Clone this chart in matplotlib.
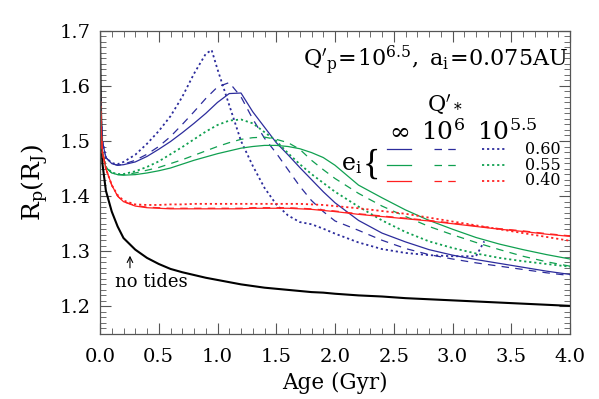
import numpy as np
import matplotlib
matplotlib.use("Agg")
from matplotlib import pyplot as plt

plt.rcParams["font.family"] = "DejaVu Serif"
plt.rcParams["mathtext.fontset"] = "dejavuserif"

# ages (Gyr) shared by most curves
age = [0.0, 0.005, 0.01, 0.02, 0.05, 0.1, 0.15, 0.2, 0.3, 0.4,
       0.5, 0.6, 0.7, 0.8, 0.9, 1.0, 1.1, 1.2, 1.3, 1.4,
       1.5, 1.6, 1.7, 1.8, 1.9, 2.0, 2.2, 2.4, 2.6, 2.8,
       3.0, 3.2, 3.4, 3.6, 3.8, 4.0]

r_no_tides = [1.70, 1.60, 1.54, 1.46, 1.41, 1.372, 1.345, 1.324, 1.303, 1.288,
              1.277, 1.268, 1.262, 1.257, 1.252, 1.248, 1.244, 1.240, 1.237, 1.234,
              1.232, 1.230, 1.228, 1.226, 1.225, 1.223, 1.220, 1.218, 1.215, 1.213,
              1.211, 1.209, 1.207, 1.205, 1.203, 1.201]

# e_i = 0.60
r_e060_inf = [1.60, 1.57, 1.54, 1.50, 1.47, 1.459, 1.456, 1.457, 1.462, 1.472,
              1.485, 1.499, 1.515, 1.532, 1.550, 1.570, 1.586, 1.587, 1.553, 1.525,
              1.497, 1.475, 1.452, 1.430, 1.408, 1.388, 1.356, 1.333, 1.317, 1.303,
              1.293, 1.285, 1.278, 1.271, 1.264, 1.258]
r_e060_q6 = [1.60, 1.57, 1.54, 1.50, 1.47, 1.459, 1.456, 1.458, 1.465, 1.476,
             1.490, 1.508, 1.530, 1.553, 1.577, 1.598, 1.606, 1.580, 1.540, 1.505,
             1.478, 1.448, 1.418, 1.392, 1.372, 1.355, 1.338, 1.320, 1.305, 1.294,
             1.286, 1.279, 1.273, 1.267, 1.261, 1.256]
age_e060_q55 = [0.0, 0.005, 0.01, 0.02, 0.05, 0.1, 0.15, 0.2, 0.3, 0.4,
                0.5, 0.6, 0.7, 0.8, 0.9, 0.95, 1.0, 1.1, 1.2, 1.3,
                1.4, 1.5, 1.6, 1.7, 1.8, 1.9, 2.0, 2.2, 2.4, 2.6,
                2.8, 3.0, 3.2, 3.27]
r_e060_q55 = [1.60, 1.57, 1.54, 1.50, 1.47, 1.460, 1.458, 1.462, 1.475, 1.495,
              1.518, 1.545, 1.580, 1.622, 1.658, 1.665, 1.630, 1.565, 1.500, 1.455,
              1.415, 1.385, 1.365, 1.353, 1.349, 1.341, 1.332, 1.316, 1.304, 1.297,
              1.293, 1.291, 1.291, 1.318]

# e_i = 0.55
r_e055_inf = [1.60, 1.56, 1.52, 1.48, 1.452, 1.442, 1.439, 1.438, 1.439, 1.442,
              1.446, 1.451, 1.458, 1.465, 1.471, 1.477, 1.482, 1.487, 1.490, 1.492,
              1.492, 1.490, 1.486, 1.479, 1.470, 1.456, 1.420, 1.397, 1.375, 1.356,
              1.340, 1.325, 1.313, 1.303, 1.294, 1.286]
r_e055_q6 = [1.60, 1.56, 1.52, 1.48, 1.452, 1.442, 1.439, 1.439, 1.442, 1.447,
             1.452, 1.459, 1.466, 1.474, 1.482, 1.490, 1.497, 1.503, 1.506, 1.507,
             1.503, 1.497, 1.485, 1.465, 1.448, 1.432, 1.405, 1.382, 1.363, 1.345,
             1.330, 1.316, 1.303, 1.291, 1.281, 1.273]
r_e055_q55 = [1.60, 1.56, 1.52, 1.48, 1.453, 1.443, 1.440, 1.440, 1.445, 1.453,
              1.463, 1.476, 1.489, 1.503, 1.517, 1.529, 1.537, 1.539, 1.532, 1.516,
              1.500, 1.478, 1.458, 1.440, 1.424, 1.408, 1.381, 1.356, 1.335, 1.318,
              1.306, 1.296, 1.288, 1.282, 1.277, 1.272]

# e_i = 0.40
r_e040_inf = [1.60, 1.56, 1.52, 1.48, 1.45, 1.42, 1.40, 1.39, 1.382, 1.379,
              1.378, 1.377, 1.377, 1.377, 1.377, 1.377, 1.377, 1.377, 1.378, 1.378,
              1.378, 1.378, 1.377, 1.376, 1.374, 1.372, 1.367, 1.363, 1.359, 1.355,
              1.350, 1.345, 1.340, 1.336, 1.331, 1.327]
r_e040_q6 = [1.60, 1.56, 1.52, 1.48, 1.45, 1.42, 1.40, 1.39, 1.383, 1.380,
             1.379, 1.378, 1.378, 1.378, 1.378, 1.378, 1.378, 1.378, 1.379, 1.379,
             1.379, 1.379, 1.378, 1.377, 1.375, 1.373, 1.368, 1.364, 1.360, 1.356,
             1.351, 1.346, 1.341, 1.337, 1.332, 1.328]
r_e040_q55 = [1.60, 1.56, 1.52, 1.48, 1.45, 1.42, 1.402, 1.392, 1.385, 1.384,
              1.384, 1.385, 1.385, 1.386, 1.386, 1.386, 1.386, 1.386, 1.386, 1.386,
              1.386, 1.386, 1.386, 1.385, 1.384, 1.382, 1.378, 1.373, 1.368, 1.361,
              1.354, 1.347, 1.340, 1.333, 1.326, 1.319]

ecc_labels = ["0.60", "0.55", "0.40"]
q_star_labels = [r"$\infty$", r"$\mathrm{10}^{6}$", r"$\mathrm{10}^{5.5}$"]

BLUE = "#2c2c9c"
GREEN = "#10a050"
RED = "#ff2020"
colors = [BLUE, GREEN, RED]
styles = ["-", (0, (6, 5)), (0, (1.2, 1.6))]

fig = plt.figure(figsize=(5.99, 3.99), dpi=100)
ax = fig.add_axes([100 / 599, 1 - 334 / 399, 470 / 599, 303.3 / 399])

ax.plot(age, r_no_tides, color="black", lw=1.5)

curves = [
    [(age, r_e060_inf), (age, r_e060_q6), (age_e060_q55, r_e060_q55)],
    [(age, r_e055_inf), (age, r_e055_q6), (age, r_e055_q55)],
    [(age, r_e040_inf), (age, r_e040_q6), (age, r_e040_q55)],
]
for i, row in enumerate(curves):
    for j, (x, y) in enumerate(row):
        lw = 0.9 if j < 2 else 1.3
        ax.plot(x, y, color=colors[i], linestyle=styles[j], lw=lw)

ax.set_xlim(0, 4.0)
ax.set_ylim(1.15, 1.7)
ax.set_xticks(np.arange(0, 4.01, 0.5))
ax.set_xticks(np.arange(0, 4.01, 0.1), minor=True)
ax.set_yticks(np.arange(1.2, 1.71, 0.1))
ax.set_yticks(np.arange(1.15, 1.701, 0.01), minor=True)
ax.xaxis.set_major_formatter(matplotlib.ticker.FormatStrFormatter("%.1f"))
ax.yaxis.set_major_formatter(matplotlib.ticker.FormatStrFormatter("%.1f"))
ax.tick_params(which="both", direction="in", top=True, right=True, color="#555555")
ax.tick_params(which="major", length=8, width=0.8, labelsize=14)
ax.tick_params(which="minor", length=4, width=0.6)
ax.tick_params(axis="x", pad=10)
ax.tick_params(axis="y", pad=7)
for sp in ax.spines.values():
    sp.set_color("#555555")
    sp.set_linewidth(0.9)

ax.set_xlabel("Age (Gyr)", fontsize=15.5, labelpad=4)
ax.set_ylabel(r"$\mathrm{R}_\mathrm{p}(\mathrm{R}_\mathrm{J})$", fontsize=18, labelpad=6)

ax.text(0.996, 0.903, r"$\mathrm{Q}'_\mathrm{p}\!=\!\mathrm{10}^{6.5},\ \mathrm{a}_\mathrm{i}\!=\!\mathrm{0.075AU}$",
        transform=ax.transAxes, ha="right", va="center", fontsize=16)

# hand-made legend: columns = Q'_*, rows = e_i
ax.text(0.734, 0.758, r"$\mathrm{Q}'_*$", transform=ax.transAxes, ha="center", va="center", fontsize=16)
col_x = [(0.610, 0.661), (0.711, 0.764), (0.812, 0.862)]
head_x = [0.636, 0.729, 0.866]
row_y = [0.609, 0.556, 0.505]
for j in range(3):
    ax.text(head_x[j], 0.667, q_star_labels[j], transform=ax.transAxes,
            ha="center", va="center", fontsize=18)
for i in range(3):
    for j in range(3):
        lw = 0.9 if j < 2 else 1.3
        ax.plot(col_x[j], [row_y[i], row_y[i]], color=colors[i], linestyle=styles[j],
                lw=lw, transform=ax.transAxes)
    ax.text(0.905, row_y[i], ecc_labels[i], transform=ax.transAxes, ha="left", va="center", fontsize=11.5)
ax.text(0.535, 0.560, r"$\mathrm{e}_\mathrm{i}$", transform=ax.transAxes, ha="center", va="center", fontsize=17)
ax.text(0.578, 0.557, "{", transform=ax.transAxes, ha="center", va="center", fontsize=26,
        family="Liberation Serif")

ax.annotate("no tides", xy=(0.255, 1.297), xytext=(0.128, 1.244), fontsize=13,
            ha="left", va="center")
ax.annotate("", xy=(0.255, 1.297), xytext=(0.255, 1.265),
            arrowprops=dict(arrowstyle="->", color="black", lw=0.8))

fig.savefig("out.png", dpi=100)
